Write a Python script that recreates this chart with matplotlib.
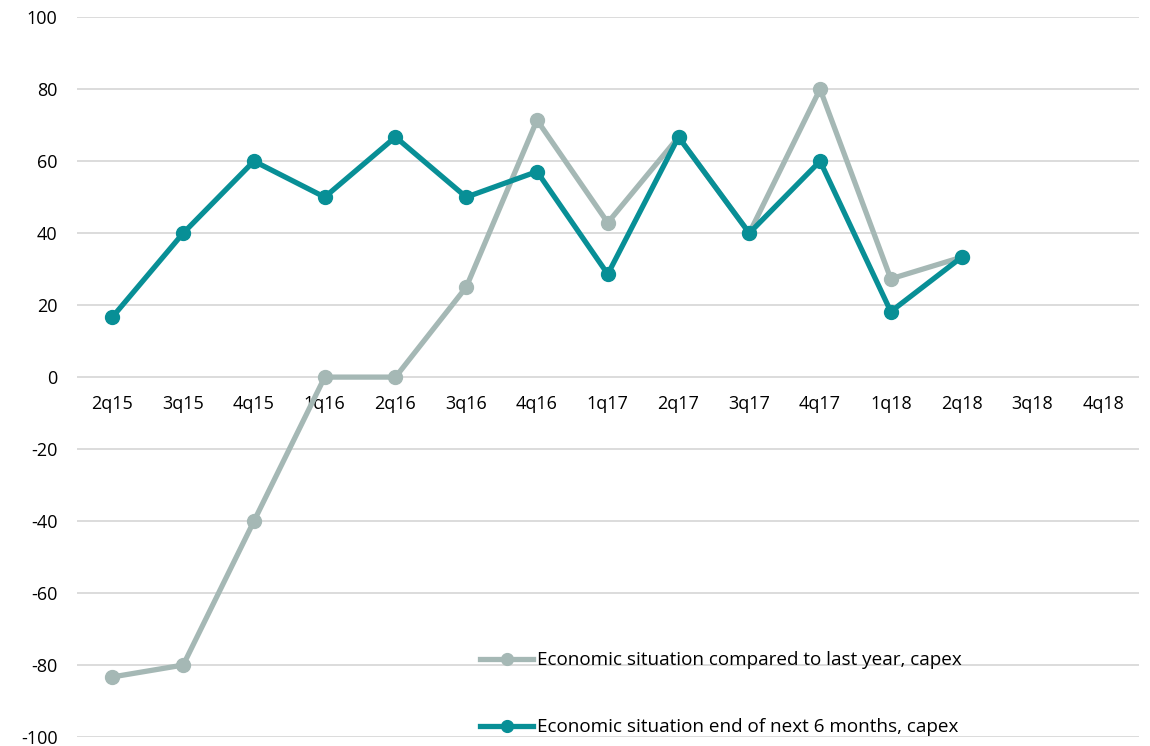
import matplotlib.pyplot as plt
import numpy as np

plt.rcParams['font.family'] = ['Open Sans', 'DejaVu Sans']
plt.rcParams['axes.unicode_minus'] = False

quarters = ['2q15', '3q15', '4q15', '1q16', '2q16', '3q16', '4q16', '1q17',
            '2q17', '3q17', '4q17', '1q18', '2q18', '3q18', '4q18']

# values (nan = no data yet)
compared_last_year = [-83.3, -80, -40, 0, 0, 25, 71.4, 42.9, 66.7, 40, 80, 27.3, 33.3,
                      np.nan, np.nan]
next_6_months = [16.7, 40, 60, 50, 66.7, 50, 57.1, 28.6, 66.7, 40, 60, 18.2, 33.3,
                 np.nan, np.nan]

gray = '#a5b8b5'
teal = '#088f96'

fig = plt.figure(figsize=(11.5, 7.46), dpi=100)
ax = fig.add_axes([0.067, 0.012, 0.923, 0.965])

x = np.arange(len(quarters))
ax.plot(x, compared_last_year, color=gray, lw=3.8, marker='o', ms=10,
        label='Economic situation compared to last year, capex', zorder=3)
ax.plot(x, next_6_months, color=teal, lw=3.8, marker='o', ms=10,
        label='Economic situation end of next 6 months, capex', zorder=4)

ax.set_xlim(-0.5, len(quarters) - 0.5)
ax.set_ylim(-100, 100)
ax.set_yticks(np.arange(-100, 101, 20))
ax.grid(axis='y', color='#d9d9d9', lw=1.3)
ax.set_axisbelow(True)

# category labels sit just under the zero line
ax.set_xticks(x)
ax.set_xticklabels(quarters)
ax.spines['bottom'].set_position(('data', 0))
for s in ax.spines.values():
    s.set_visible(False)
ax.tick_params(axis='x', length=0, pad=13, labelsize=13)
ax.tick_params(axis='y', length=0, pad=14, labelsize=13)

leg = ax.legend(loc='center left', bbox_to_anchor=(0.364, 0.06), frameon=False,
                fontsize=13.6, handlelength=2.8, handletextpad=0.2,
                labelspacing=2.6, markerscale=0.85)

fig.savefig('out.png', dpi=100)
